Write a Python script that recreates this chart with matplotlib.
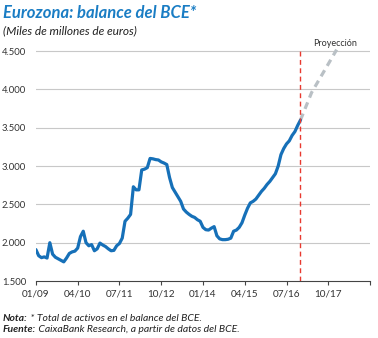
import matplotlib
matplotlib.use("Agg")
import matplotlib.pyplot as plt
import numpy as np

plt.rcParams['font.family'] = ['Lato', 'DejaVu Sans']

# Total de activos del BCE, mensual desde 01/2009 (miles de millones de euros)
balance = [1910, 1830, 1805, 1815, 1800, 2000, 1850, 1810, 1790, 1770,
           1750, 1800, 1860, 1880, 1890, 1930, 2080, 2150, 2000, 1960,
           1975, 1895, 1920, 1995, 1970, 1950, 1920, 1895, 1900, 1960,
           1990, 2060, 2280, 2320, 2370, 2730, 2690, 2690, 2950, 2960,
           2980, 3100, 3095, 3085, 3080, 3055, 3040, 3020, 2850, 2720,
           2660, 2600, 2540, 2440, 2400, 2370, 2345, 2330, 2300, 2280,
           2200, 2170, 2165, 2190, 2210, 2090, 2050, 2040, 2040, 2045,
           2060, 2150, 2165, 2200, 2260, 2360, 2450, 2520, 2540, 2570,
           2620, 2670, 2710, 2760, 2800, 2850, 2900, 3000, 3150, 3230,
           3290, 3330, 3400, 3450, 3530, 3600]
proy_mes = [95, 99, 108]
proy_val = [3600, 3960, 4520]
corte_mes = 95

tick_pos = [0, 15, 30, 45, 60, 75, 90, 105, 120]
tick_lab = ['01/09', '04/10', '07/11', '10/12', '01/14', '04/15', '07/16', '10/17', '']
y_ticks = [1500, 2000, 2500, 3000, 3500, 4000, 4500]
y_lab = ['1.500', '2.000', '2.500', '3.000', '3.500', '4.000', '4.500']

azul = '#1670b8'
gris_txt = '#333333'

fig = plt.figure(figsize=(3.78, 3.38), dpi=100)
ax = fig.add_axes([0.095, 0.1686, 0.884, 0.689])

meses = np.arange(len(balance))
ax.plot(meses, balance, color=azul, lw=2.3, solid_capstyle='round', zorder=3)
ax.plot(proy_mes, proy_val, color='#b9c0c5', lw=2.3, dashes=(2.2, 1.6), zorder=2)
ax.axvline(corte_mes, color='#e8392f', lw=1.0, dashes=(3.5, 2.5), zorder=4)

ax.set_xlim(0, 120)
ax.set_ylim(1500, 4540)
ax.set_yticks(y_ticks)
ax.set_yticklabels(y_lab)
ax.set_xticks(tick_pos)
ax.set_xticklabels(tick_lab)

for v in y_ticks[1:]:
    ax.axhline(v, color='#c8c8c8', lw=0.8, zorder=1)

for s in ['top', 'right', 'left']:
    ax.spines[s].set_visible(False)
ax.spines['bottom'].set_color('#444444')
ax.spines['bottom'].set_linewidth(0.8)
ax.tick_params(axis='y', length=0, pad=7, labelsize=6.8, labelcolor=gris_txt)
ax.tick_params(axis='x', length=3, width=0.8, color='#444444', pad=3,
               labelsize=7.2, labelcolor=gris_txt)

ax.text(107.5, 4595, 'Proyección', fontsize=6.5, color=gris_txt,
        ha='center', va='center', clip_on=False)

fig.text(0.008, 0.963, 'Eurozona: balance del BCE*', fontsize=12,
         fontweight='bold', style='italic', color='#1a7dc4', va='center')
fig.text(0.008, 0.91, '(Miles de millones de euros)', fontsize=8.6,
         style='italic', color='#222222', va='center')

# notas al pie: parte en negrita seguida del texto normal
renderer = fig.canvas.get_renderer()
inv = fig.transFigure.inverted()
for y, neg, resto in [(0.059, 'Nota:', ' * Total de activos en el balance del BCE.'),
                      (0.026, 'Fuente:', ' CaixaBank Research, a partir de datos del BCE.')]:
    t = fig.text(0.008, y, neg, fontsize=7.5, fontweight='bold',
                 style='italic', color='#222222', va='center')
    x1 = inv.transform(t.get_window_extent(renderer))[1][0]
    fig.text(x1, y, resto, fontsize=7.5, style='italic', color='#222222', va='center')

fig.savefig('out.png', dpi=100)
